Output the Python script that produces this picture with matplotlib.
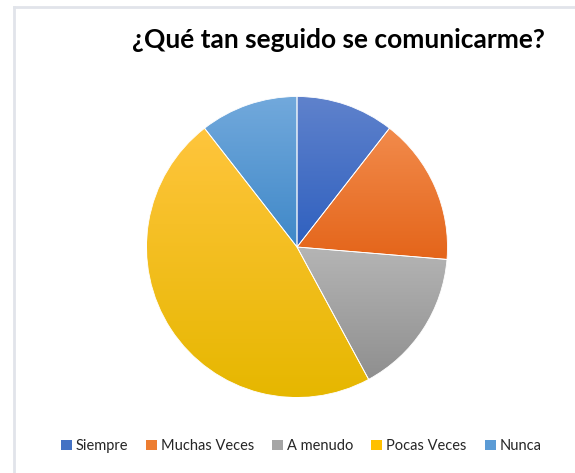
import numpy as np
import matplotlib.pyplot as plt
from matplotlib.colors import LinearSegmentedColormap
from matplotlib.patches import Patch

plt.rcParams['font.family'] = ['Lato', 'DejaVu Sans']

labels = ['Siempre', 'Muchas Veces', 'A menudo', 'Pocas Veces', 'Nunca']
values = [2, 3, 3, 9, 2]
# color claro arriba / oscuro abajo para cada porcion
top_colors = ['#5f82cc', '#f28b4c', '#b5b5b5', '#ffc53d', '#72a9dc']
bottom_colors = ['#2f60bf', '#e4651a', '#8f8f8f', '#e6b700', '#3f88c8']
base_colors = ['#4472c4', '#ed7d31', '#a5a5a5', '#ffc000', '#5b9bd5']

W, H = 575, 473
fig = plt.figure(figsize=(W / 100, H / 100), dpi=100)

# marco gris claro (solo izquierda y arriba)
frame = fig.add_axes([0, 0, 1, 1])
frame.set_xlim(0, W)
frame.set_ylim(H, 0)
frame.axis('off')
frame.plot([13.5, 13.5], [7.5, H], color='#e1e4ea', lw=2)
frame.plot([13.5, W], [7.5, 7.5], color='#e1e4ea', lw=2)

cx, cy, r = 297, 247, 152
ax = fig.add_axes([(cx - r) / W, (H - cy - r) / H, 2 * r / W, 2 * r / H])
wedges, _ = ax.pie(values, startangle=90, counterclock=False, colors=base_colors,
                   radius=1, wedgeprops=dict(edgecolor='white', linewidth=0.6))

grad = np.linspace(0, 1, 256).reshape(-1, 1)
for w, c0, c1 in zip(wedges, top_colors, bottom_colors):
    bb = w.get_path().get_extents()
    cmap = LinearSegmentedColormap.from_list('g', [c0, c1])
    im = ax.imshow(grad, cmap=cmap, extent=(bb.x0, bb.x1, bb.y0, bb.y1),
                   origin='upper', aspect='auto', zorder=w.get_zorder() + 0.1)
    im.set_clip_path(w)
    w.set_zorder(w.get_zorder() + 0.2)
    w.set_facecolor('none')

ax.set_xlim(-1.01, 1.01)
ax.set_ylim(-1.01, 1.01)
ax.axis('off')

fig.text(338 / W, 1 - 40 / H, '¿Qué tan seguido se comunicarme?', ha='center', va='center',
         fontsize=19, fontweight='bold', color='#000000')

handles = [Patch(facecolor=c, edgecolor='none') for c in base_colors]
fig.legend(handles, labels, loc='center', bbox_to_anchor=(301 / W, 1 - 446 / H), ncol=5,
           frameon=False, fontsize=10.5, handlelength=0.75, handleheight=0.75,
           handletextpad=0.25, columnspacing=1.25, labelcolor='#262626')

fig.savefig('out.png', dpi=100, facecolor='white')
